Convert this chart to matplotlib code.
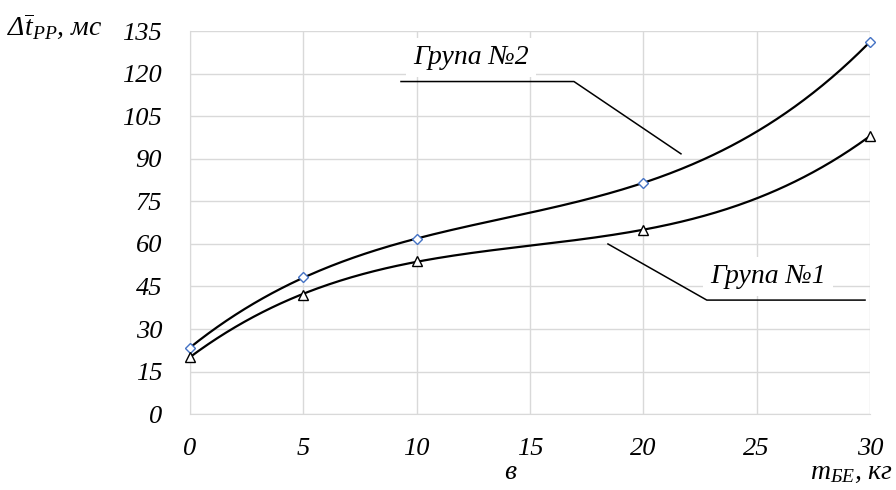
import numpy as np
import matplotlib.pyplot as plt

plt.rcParams['font.family'] = ['Liberation Serif', 'DejaVu Serif']
plt.rcParams['mathtext.fontset'] = 'custom'
plt.rcParams['mathtext.rm'] = 'Liberation Serif'
plt.rcParams['mathtext.it'] = 'Liberation Serif:italic'

mass = [0, 5, 10, 20, 30]
group1 = [20.2, 42, 54.1, 64.9, 98.1]
group2 = [23.4, 48.2, 61.8, 81.6, 131.3]
x_ticks = [0, 5, 10, 15, 20, 25, 30]
y_ticks = list(range(0, 136, 15))

fig = plt.figure(figsize=(8.96, 4.9), dpi=100)
ax = fig.add_axes([0.212, 0.155, 0.759, 0.781])

# polynomial trendlines (order 3) through each group
xs = np.linspace(0, 30, 300)
for ys in (group1, group2):
    coef = np.polyfit(mass, ys, 3)
    ax.plot(xs, np.polyval(coef, xs), color='black', lw=1.6, zorder=3)

ax.plot(mass, group2, ls='none', marker='D', ms=5, mfc='white',
        mec='#4472C4', mew=1, zorder=4, clip_on=False)
ax.plot(mass, group1, ls='none', marker='^', ms=6.5, mfc='white',
        mec='black', mew=1, zorder=4, clip_on=False)

ax.set_xlim(0, 30)
ax.set_ylim(0, 135)
ax.set_xticks(x_ticks)
ax.set_yticks(y_ticks)
ax.grid(True, color='#d9d9d9', lw=1)
ax.set_axisbelow(True)
for s in ['top', 'right']:
    ax.spines[s].set_visible(False)
for s in ['left', 'bottom']:
    ax.spines[s].set_color('#d9d9d9')
ax.tick_params(length=0, labelsize=19)
ax.tick_params(axis='x', pad=17)
ax.tick_params(axis='y', pad=20)
for lab in ax.get_xticklabels() + ax.get_yticklabels():
    lab.set_fontstyle('italic')

# leader lines and labels
ax.plot([9.31, 16.94, 21.66], [117.3, 117.3, 91.8], color='black', lw=1.1,
        zorder=2)
ax.text(12.4, 125.8, 'Група №2', fontsize=20, style='italic', ha='center',
        va='center', zorder=2,
        bbox=dict(facecolor='white', edgecolor='none', pad=5))
ax.plot([18.44, 22.8, 29.78], [60.0, 40.2, 40.2], color='black', lw=1.1,
        zorder=2)
ax.text(25.5, 48.5, 'Група №1', fontsize=20, style='italic', ha='center',
        va='center', zorder=2,
        bbox=dict(facecolor='white', edgecolor='none', pad=5))

fig.text(0.008, 0.945, r'Δ$\overline{t}_{PP}$, мс', fontsize=20,
         style='italic', ha='left', va='center')
fig.text(0.997, 0.036, r'$m_{БЕ}$, кг', fontsize=20, style='italic',
         ha='right', va='center')
fig.text(0.569, 0.036, 'в', fontsize=20, style='italic', ha='center',
         va='center')

fig.savefig('out.png', dpi=100)
